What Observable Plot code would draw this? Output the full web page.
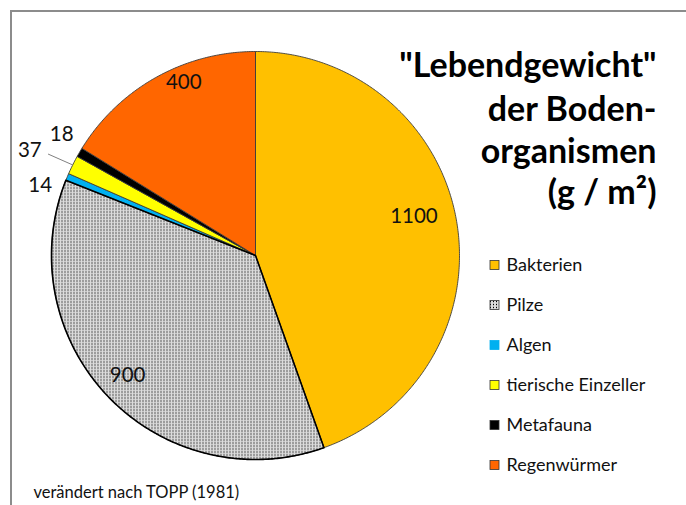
<!DOCTYPE html>
<html><head><meta charset="utf-8">
<script src="https://cdn.jsdelivr.net/npm/d3@7"></script>
<script src="https://cdn.jsdelivr.net/npm/@observablehq/plot@0.6"></script>
<style>
html,body{margin:0;padding:0;background:#fff;}
#wrap{position:relative;width:686px;height:505px;overflow:hidden;}
#frame{position:absolute;left:10px;top:10px;width:700px;height:520px;border-left:2px solid #8c8c8c;border-top:2px solid #8c8c8c;box-sizing:border-box;}
#chart{position:absolute;left:0;top:0;}
</style></head>
<body><div id="wrap"><div id="frame"></div><div id="chart"></div></div>
<script>
const names = ["Bakterien","Pilze","Algen","tierische Einzeller","Metafauna","Regenwürmer"];
const values = [1100, 900, 14, 37, 18, 400];
const colors = ["#FFC000","url(#pilze)","#00B0F0","#FFFF00","#000000","#FF6600"];
const titleLines = ["\"Lebendgewicht\"", "der Boden-", "organismen", "(g / m²)"];
const caption = "verändert nach TOPP (1981)";

// layout
const W = 686, H = 505;
const cx = 255, cy = 255, R = 204;
const labelR = [0.80, 0.86, 1.11, 1.22, 1.12, 0.92];
const labelDA = [-4, 0.8, -4.6, -1.4, 1.6, 6.7];

const pie = d3.pie().sort(null).value(d => d.value)(names.map((n, i) => ({name: n, value: values[i]})));
const pt = (a, r) => [cx + r * Math.sin(a), cy - r * Math.cos(a)];

const slicePts = [];
pie.forEach(p => {
  const n = Math.max(2, Math.ceil((p.endAngle - p.startAngle) / (Math.PI / 360)));
  slicePts.push({name: p.data.name, x: cx, y: cy});
  for (let k = 0; k <= n; k++) {
    const a = p.startAngle + (p.endAngle - p.startAngle) * k / n;
    const [x, y] = pt(a, R);
    slicePts.push({name: p.data.name, x, y});
  }
  slicePts.push({name: p.data.name, x: cx, y: cy});
});

const labels = pie.map((p, i) => {
  const a = (p.startAngle + p.endAngle) / 2 + labelDA[i] * Math.PI / 180;
  const [x, y] = pt(a, R * labelR[i]);
  return {text: String(p.data.value), x, y};
});

// leader line for the 37 slice
const p37 = pie[3];
const m37 = (p37.startAngle + p37.endAngle) / 2;
const leader = [pt(m37 - 0.005, R * 1.13), pt(m37, R)].map(([x, y]) => ({x, y}));

const legend = names.map((n, i) => ({name: n, i}));
const lx = 490, ly0 = 265, ldy = 40, ls = 9;

const plot = Plot.plot({
  width: W, height: H, margin: 0,
  x: {domain: [0, W], range: [0, W], axis: null},
  y: {domain: [0, H], range: [0, H], axis: null},
  color: {domain: names, range: colors},
  style: {fontFamily: "Lato, 'Open Sans', sans-serif", background: "transparent"},
  marks: [
    Plot.line(slicePts, {x: "x", y: "y", z: "name", fill: "name", stroke: "#3c3c3c", strokeWidth: 0.9, strokeLinejoin: "round"}),
    Plot.line(slicePts.filter(d => d.name === "Pilze"), {x: "x", y: "y", stroke: "#000", strokeWidth: 1.6}),
    Plot.line(leader, {x: "x", y: "y", stroke: "#808080", strokeWidth: 1}),
    Plot.text(labels, {x: "x", y: "y", text: "text", fontSize: 20.5, fill: "#111"}),
    Plot.rect(legend, {x1: () => lx, x2: () => lx + ls, y1: d => ly0 + d.i * ldy - ls / 2, y2: d => ly0 + d.i * ldy + ls / 2, fill: "name", stroke: d => d.name === "Algen" ? "#00B0F0" : "#333", strokeWidth: 0.8}),
    Plot.text(legend, {x: () => lx + 16, y: d => ly0 + d.i * ldy, text: "name", textAnchor: "start", fontSize: 18, fill: "#111"}),
    Plot.text(titleLines, {x: () => 656, y: (d, i) => [76, 120, 162, 203][i], text: d => d, textAnchor: "end", lineAnchor: "bottom", fontSize: 34, fontWeight: "bold", fill: "#000"}),
    Plot.text([caption], {x: () => 33, y: () => 497, text: d => d, textAnchor: "start", lineAnchor: "bottom", fontSize: 16.5, fill: "#111"})
  ]
});

const ns = "http://www.w3.org/2000/svg";
const defs = document.createElementNS(ns, "defs");
defs.innerHTML = '<pattern id="pilze" width="3" height="3" patternUnits="userSpaceOnUse"><rect width="3" height="3" fill="#dcdcdc"/><rect x="1" y="0" width="1" height="3" fill="#b8b8b8"/><rect x="1" y="1" width="1" height="1" fill="#000"/></pattern>';
plot.insertBefore(defs, plot.firstChild);
document.getElementById("chart").appendChild(plot);
</script></body></html>
